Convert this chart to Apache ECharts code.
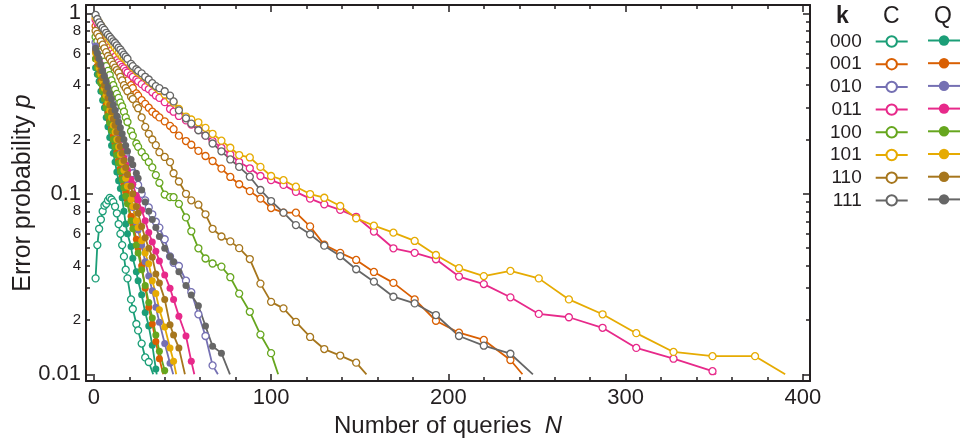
<!DOCTYPE html>
<html><head><meta charset="utf-8">
<script src="https://cdn.jsdelivr.net/npm/echarts@6/dist/echarts.min.js"></script>
<style>html,body{margin:0;padding:0;background:#fff;}#c{width:961px;height:444px;}</style>
</head><body><div id="c"></div>
<script>
// ---------- data ----------
const kLabels = ['000','001','010','011','100','101','110','111'];
// sampling grid of query counts N shared by all curves
const nGrid = [1,2,3,4,5,6,7,8,9,10,11,12,13,14,15,16,17,18,19,21,22,24,25,27,29,31,33,35,37,40,43,45,48,52,55,59,63,67,72,77,82,88,94,100,107,114,122,130,139,148,158,169,181,193,206,220,235,251,268,287,306,327,349,373];
// Classical (C) curves, values aligned with nGrid
const pC000 = [0.034,0.052,0.064,0.072,0.080,0.086,0.088,0.092,0.095,0.093,0.090,0.085,0.078,0.068,0.060,0.052,0.045,0.038,0.034,
  0.026,0.023,0.019,0.0175,0.0148,0.0124,0.0117];
const pC001 = [0.85,0.82,0.79,0.76,0.73,0.70,0.67,0.645,0.62,0.595,0.57,0.545,0.52,0.50,0.485,0.47,0.455,0.44,0.425,
  0.40,0.385,0.36,0.35,0.33,0.315,0.30,0.285,0.275,0.265,
  0.252,0.238,0.228,0.21,0.196,0.187,0.173,0.162,0.152,0.138,0.124,
  0.113,0.1035,0.094,0.0834,0.0786,0.0786,0.066,0.0522,0.0471,0.043,
  0.0369,0.0321,0.026,0.0198,0.017,0.0155,0.012];
const pC010 = [0.69,0.65,0.60,0.56,0.52,0.485,0.45,0.42,0.39,0.36,0.335,0.30,0.265,0.235,0.21,0.19,0.176,0.165,0.155,
  0.138,0.13,0.118,0.112,0.10,0.092,0.084,0.077,0.07,0.065,
  0.056,0.045,0.0415,0.0398,0.033,0.0285,0.0215,0.0163,0.0112];
const pC011 = [0.92,0.88,0.84,0.80,0.77,0.74,0.71,0.68,0.65,0.625,0.60,0.575,0.55,0.535,0.52,0.505,0.495,0.48,0.47,
  0.455,0.445,0.43,0.42,0.405,0.39,0.38,0.365,0.35,0.34,
  0.322,0.295,0.285,0.27,0.255,0.242,0.226,0.21,0.196,0.18,0.165,
  0.150,0.1385,0.1255,0.119,0.112,0.1025,0.094,0.0874,0.0814,0.0746,
  0.0618,0.0499,0.0471,0.0434,0.0348,0.0316,0.0267,0.0216,0.0207,0.0181,
  0.014,0.0122,0.0104];
const pC100 = [0.74,0.70,0.66,0.61,0.575,0.54,0.51,0.48,0.455,0.425,0.40,0.378,0.358,0.34,0.32,0.305,0.285,0.265,0.25,
  0.222,0.21,0.19,0.182,0.17,0.16,0.15,0.14,0.127,0.115,
  0.099,0.0958,0.0958,0.088,0.074,0.062,0.0499,0.0438,0.0411,0.0395,0.0345,
  0.028,0.0222,0.0166,0.0131];
const pC101 = [0.95,0.92,0.89,0.86,0.83,0.80,0.77,0.74,0.715,0.69,0.665,0.645,0.625,0.605,0.59,0.575,0.565,0.555,0.54,
  0.515,0.50,0.48,0.47,0.455,0.44,0.42,0.405,0.39,0.375,
  0.355,0.335,0.32,0.295,0.268,0.258,0.249,0.232,0.215,0.197,0.18,
  0.164,0.159,0.141,0.1255,0.119,0.1095,0.0997,0.0951,0.0856,0.0732,
  0.0666,0.0609,0.0548,0.0458,0.0387,0.035,0.0374,0.034,0.026,0.0215,
  0.0169,0.0133,0.0126,0.0126];
const pC110 = [0.80,0.77,0.74,0.70,0.67,0.64,0.61,0.58,0.56,0.54,0.52,0.50,0.485,0.47,0.445,0.425,0.40,0.385,0.37,
  0.345,0.335,0.31,0.298,0.265,0.235,0.215,0.20,0.186,0.17,
  0.16,0.15,0.13,0.117,0.10,0.092,0.087,0.077,0.064,0.058,0.0545,
  0.05,0.0435,0.0318,0.0252,0.0232,0.0195,0.0161,0.0138,0.0127,0.0116];
const pC111 = [0.98,0.93,0.89,0.86,0.83,0.81,0.78,0.76,0.74,0.72,0.70,0.685,0.665,0.645,0.63,0.61,0.59,0.575,0.56,
  0.525,0.51,0.49,0.48,0.465,0.445,0.43,0.41,0.395,0.385,
  0.37,0.35,0.325,0.29,0.262,0.245,0.225,0.21,0.19,0.172,0.155,
  0.141,0.1244,0.105,0.0912,0.0786,0.0671,0.0597,0.0516,0.0452,0.0382,
  0.0326,0.0269,0.0247,0.0213,0.0163,0.0144,0.013];
// Quantum (Q) curves, values aligned with nGrid
const pQ000 = [0.50,0.46,0.42,0.37,0.33,0.30,0.265,0.235,0.205,0.185,0.168,0.15,0.132,0.118,0.107,0.095,0.08,0.068,0.06,
  0.051,0.044,0.037,0.033,0.0276,0.022,0.0185,0.0145,0.0107];
const pQ001 = [0.56,0.51,0.46,0.42,0.38,0.34,0.31,0.28,0.255,0.23,0.21,0.19,0.17,0.153,0.138,0.125,0.113,0.102,0.092,
  0.075,0.068,0.056,0.05,0.04,0.03,0.0235,0.019,0.0152,0.0122];
const pQ010 = [0.66,0.6,0.55,0.5,0.45,0.41,0.37,0.335,0.305,0.275,0.25,0.225,0.205,0.185,0.168,0.152,0.137,0.124,0.113,
  0.093,0.084,0.069,0.063,0.052,0.042,0.035,0.029,0.0235,0.0194,
  0.0148,0.0115];
const pQ011 = [0.63,0.58,0.54,0.5,0.46,0.42,0.39,0.36,0.33,0.305,0.28,0.26,0.24,0.22,0.2,0.18,0.158,0.145,0.135,
  0.12,0.113,0.098,0.0925,0.0814,0.071,0.061,0.054,0.048,0.0425,
  0.0355,0.03,0.026,0.021,0.0163,0.0118];
const pQ100 = [0.56,0.5,0.455,0.41,0.37,0.335,0.30,0.27,0.247,0.224,0.2,0.182,0.164,0.148,0.133,0.12,0.108,0.097,0.088,
  0.071,0.064,0.052,0.047,0.038,0.031,0.025,0.0205,0.0165,0.0134,
  0.0105];
const pQ101 = [0.6,0.55,0.5,0.46,0.42,0.385,0.35,0.32,0.29,0.265,0.24,0.22,0.2,0.182,0.165,0.15,0.135,0.122,0.11,
  0.093,0.085,0.071,0.065,0.055,0.047,0.041,0.033,0.028,0.0228,
  0.0183,0.014,0.0118];
const pQ110 = [0.62,0.57,0.52,0.48,0.44,0.40,0.37,0.34,0.31,0.285,0.26,0.24,0.22,0.2,0.183,0.168,0.153,0.14,0.128,
  0.11,0.1,0.085,0.078,0.066,0.057,0.05,0.0445,0.036,0.032,
  0.026,0.0188,0.0165,0.014];
const pQ111 = [0.64,0.6,0.56,0.52,0.48,0.45,0.42,0.39,0.36,0.335,0.31,0.29,0.27,0.25,0.232,0.215,0.2,0.185,0.172,
  0.155,0.145,0.13,0.122,0.105,0.09,0.08,0.072,0.065,0.058,
  0.05,0.045,0.042,0.037,0.031,0.0275,0.024,0.0185,0.0143,0.0131];
// N where each curve leaves the plot range at p = 0.01
const pFloor = 0.01;
const endC = [33.5, 241.8, 70, 351, 104, 390, 153.8, 247.7];
const endQ = [35.5, 39.2, 44.8, 56.7, 40.5, 46.5, 51.4, 76.8];
// axis ticks / labels
const xLabelVals = [0,100,200,300,400];
const xMinorVals = [20,40,60,80,120,140,160,180,220,240,260,280,320,340,360,380];
const yDecadeVals = [0.01,0.1,1];
const ySubLabelVals = [0.02,0.04,0.06,0.08,0.2,0.4,0.6,0.8];
const yMinorVals = [0.02,0.03,0.04,0.05,0.06,0.07,0.08,0.09,0.2,0.3,0.4,0.5,0.6,0.7,0.8,0.9];

// ---------- style ----------
const palette = ['#1b9e77','#d95f02','#7570b3','#e7298a','#66a61e','#e6ab02','#a6761d','#666666'];
const ink = '#231f20';
const FONT = '"Liberation Sans", Arial, sans-serif';
const pC = [pC000,pC001,pC010,pC011,pC100,pC101,pC110,pC111];
const pQ = [pQ000,pQ001,pQ010,pQ011,pQ100,pQ101,pQ110,pQ111];

function build(name, p, endN, color, open) {
  const data = p.map((v, i) => [nGrid[i], v]);
  data.push({ value: [endN, pFloor], symbol: 'none' });
  return {
    name, type: 'line', xAxisIndex: 0, yAxisIndex: 0, data,
    symbol: 'circle', symbolSize: 7, showAllSymbol: true, smooth: false,
    lineStyle: { color, width: 1.8 },
    itemStyle: open ? { color: '#fff', borderColor: color, borderWidth: 1.3 }
                    : { color, borderColor: color, borderWidth: 0 },
    emphasis: { disabled: true }, silent: true
  };
}
const series = [];
kLabels.forEach((k, i) => series.push(build(k, pC[i], endC[i], palette[i], true)));
kLabels.forEach((k, i) => series.push(build('Q' + k, pQ[i], endQ[i], palette[i], false)));

const X_MIN = -4.4, X_MAX = 404, Y_MIN = 0.00918, Y_MAX = 1.112;
function xAx(pos, vals, len, main) {
  return {
    type: 'value', position: pos, min: X_MIN, max: X_MAX,
    axisLine: { show: main, onZero: false, lineStyle: { color: ink, width: 2 } },
    axisTick: { show: true, inside: true, length: len, customValues: vals, lineStyle: { color: ink, width: 1.5 } },
    axisLabel: (main && pos === 'bottom') ? { show: true, customValues: xLabelVals, showMinLabel: true, showMaxLabel: true, color: ink, fontSize: 22, fontFamily: FONT, margin: 6 } : { show: false },
    splitLine: { show: false }, minorTick: { show: false }, minorSplitLine: { show: false },
    name: (main && pos === 'bottom') ? 'Number of queries  {i|N}' : '',
    nameLocation: 'middle', nameGap: 33, nameMoveOverlap: false,
    nameTextStyle: { color: ink, fontSize: 24, fontFamily: FONT, rich: { i: { fontStyle: 'italic', fontSize: 24, fontFamily: FONT, color: ink } } }
  };
}
// kind: 'minor' (main axis: line, minor ticks, 2-8 labels, name), 'decade' (long ticks + 0.01/0.1/1 labels)
function yAx(pos, kind) {
  const withLabels = pos === 'left';
  const ax = {
    type: 'log', logBase: 10, position: pos, min: Y_MIN, max: Y_MAX,
    axisLine: { show: kind === 'minor', onZero: false, lineStyle: { color: ink, width: 2 } },
    axisTick: { show: true, inside: true, length: kind === 'minor' ? 4 : 7,
                customValues: kind === 'minor' ? yMinorVals : yDecadeVals, lineStyle: { color: ink, width: 1.5 } },
    axisLabel: { show: false },
    splitLine: { show: false }, minorTick: { show: false }, minorSplitLine: { show: false },
    name: '', nameMoveOverlap: false
  };
  if (withLabels && kind === 'minor') {
    ax.axisLabel = {
      show: true, customValues: ySubLabelVals, margin: 5, showMinLabel: true, showMaxLabel: true,
      formatter: v => String(Math.round(v / Math.pow(10, Math.floor(Math.log10(v) + 1e-9)))),
      color: ink, fontSize: 15, fontFamily: FONT
    };
    ax.name = 'Error probability {i|p}';
    ax.nameLocation = 'middle'; ax.nameRotate = 90; ax.nameGap = 50;
    ax.nameTextStyle = { color: ink, fontSize: 25, fontFamily: FONT, rich: { i: { fontStyle: 'italic', fontSize: 25, fontFamily: FONT, color: ink } } };
  }
  if (withLabels && kind === 'decade') {
    ax.axisLabel = {
      show: true, customValues: yDecadeVals, margin: 5, showMinLabel: true, showMaxLabel: true,
      formatter: v => (v >= 1 ? '1' : v.toFixed(Math.round(-Math.log10(v)))),
      color: ink, fontSize: 22, fontFamily: FONT
    };
  }
  return ax;
}

const chart = echarts.init(document.getElementById('c'), null, { renderer: 'canvas' });
chart.setOption({
  animation: false,
  backgroundColor: '#fff',
  grid: { left: 86, right: 151, top: 5, bottom: 63, containLabel: false, outerBoundsMode: 'none' },
  xAxis: [xAx('bottom', xLabelVals, 7, true), xAx('bottom', xMinorVals, 4, false),
          xAx('top', xLabelVals, 7, true), xAx('top', xMinorVals, 4, false)],
  yAxis: [yAx('left', 'minor'), yAx('left', 'decade'), yAx('right', 'minor'), yAx('right', 'decade')],
  legend: [
    { orient: 'vertical', left: 830, top: 32, padding: 0, align: 'right', selectedMode: false,
      itemWidth: 32, itemHeight: 13, itemGap: 3.7, data: kLabels,
      textStyle: { color: ink, fontSize: 19, fontFamily: FONT, padding: [0, 9, 0, 0] } },
    { orient: 'vertical', left: 927, top: 34, padding: 0, align: 'left', selectedMode: false,
      itemWidth: 32, itemHeight: 13, itemGap: 11, data: kLabels.map(k => 'Q' + k),
      formatter: () => '', textStyle: { fontSize: 1 } }
  ],
  graphic: [
    { type: 'text', left: 836, top: 5, style: { text: 'k', font: 'bold 23px ' + FONT, fill: ink } },
    { type: 'text', left: 883, top: 5, style: { text: 'C', font: '23px ' + FONT, fill: ink } },
    { type: 'text', left: 934, top: 5, style: { text: 'Q', font: '23px ' + FONT, fill: ink } }
  ],
  series
});
</script></body></html>
